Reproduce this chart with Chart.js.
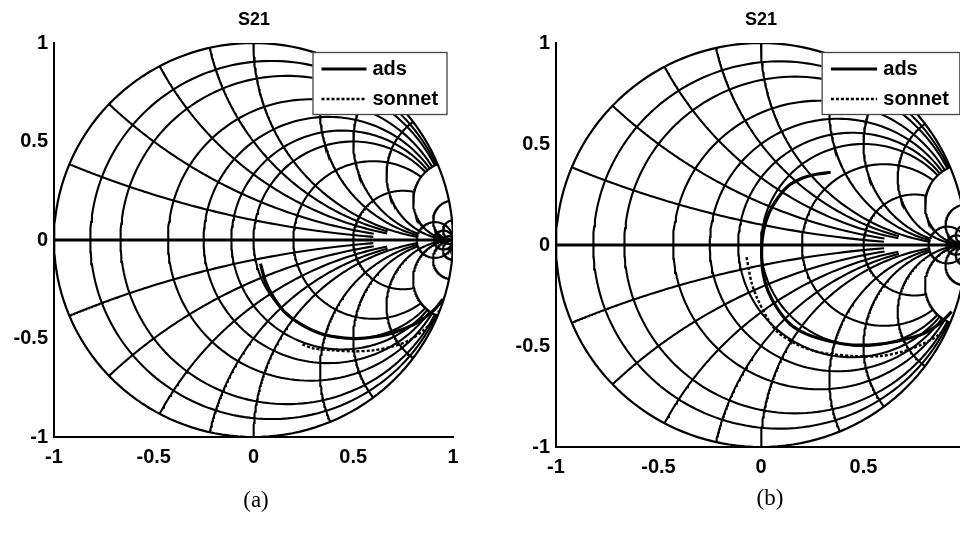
<!DOCTYPE html>
<html>
<head>
<meta charset="utf-8">
<script src="https://cdn.jsdelivr.net/npm/chart.js@4.4.1/dist/chart.umd.min.js"></script>
<style>
  html, body { margin: 0; padding: 0; background: #fff; }
  #page { position: relative; width: 960px; height: 533px; overflow: hidden; background: #fff; }
  .panel { position: absolute; top: 0; }
  .cap { position: absolute; font-family: "Liberation Serif", "Times New Roman", serif; font-size: 23px;
         color: #000; transform: translateX(-50%); line-height: 26px; }
  .ttl { position: absolute; font-family: "Liberation Sans", Arial, sans-serif; font-weight: bold; font-size: 18px;
         color: #000; transform: translateX(-50%); line-height: 20px; top: 9px; }
</style>
</head>
<body>
<div id="page">
  <div class="panel" style="left:0"><canvas id="chartA" width="480" height="533"></canvas></div>
  <div class="panel" style="left:480px"><canvas id="chartB" width="513" height="533"></canvas></div>
  <div class="ttl" style="left:254px">S21</div>
  <div class="ttl" style="left:761px">S21</div>
  <div class="cap" style="left:256px;top:487px">(a)</div>
  <div class="cap" style="left:770px;top:485px">(b)</div>
</div>
<script>
// ---- measured S21 traces (real / imaginary parts) ----
const adsA_re    = [0.035, 0.06, 0.10, 0.16, 0.24, 0.35, 0.50, 0.62, 0.73, 0.82, 0.90, 0.95];
const adsA_im    = [-0.12, -0.21, -0.29, -0.37, -0.43, -0.48, -0.50, -0.49, -0.46, -0.42, -0.36, -0.30];
const sonnetA_re = [0.245, 0.30, 0.40, 0.50, 0.60, 0.70, 0.78, 0.85, 0.90, 0.93];
const sonnetA_im = [-0.53, -0.55, -0.56, -0.565, -0.56, -0.54, -0.51, -0.46, -0.41, -0.36];

const adsB_re    = [0.34, 0.27, 0.20, 0.13, 0.08, 0.04, 0.012, 0.003, 0.01, 0.035, 0.077, 0.14, 0.22, 0.33, 0.45, 0.58, 0.69, 0.79, 0.87, 0.93];
const adsB_im    = [0.36, 0.35, 0.33, 0.29, 0.23, 0.16, 0.07, -0.03, -0.14, -0.23, -0.31, -0.39, -0.44, -0.475, -0.495, -0.49, -0.47, -0.44, -0.39, -0.33];
const sonnetB_re = [-0.07, -0.06, -0.045, -0.02, 0.03, 0.08, 0.17, 0.26, 0.34, 0.46, 0.58, 0.70, 0.79, 0.86, 0.91];
const sonnetB_im = [-0.06, -0.12, -0.19, -0.26, -0.36, -0.43, -0.49, -0.525, -0.54, -0.55, -0.55, -0.525, -0.49, -0.45, -0.40];

// ---- Smith chart grid: value of each circle / arc and how far it runs ----
const rValues = [0.1, 0.2, 0.4, 0.6, 0.8, 1, 1.5, 3, 10, 20, 50];
const rReach  = [5, 5, 5, 5, 5, 5, 5, 5, Infinity, Infinity, Infinity];   // |x| bound of each resistance circle
const xValues = [0.2, 0.4, 0.6, 0.8, 1, 1.5, 2, 3, 5, 10, 20];
const xReach  = [4, 4, 5, 5, 10, 10, 10, Infinity, Infinity, Infinity, Infinity]; // r bound of each reactance arc

const tickValues = [-1, -0.5, 0, 0.5, 1];
const seriesNames = ['ads', 'sonnet'];

function gammaOf(r, x) {
  if (!isFinite(r) || !isFinite(x) || Math.abs(x) > 1e7 || r > 1e7) return { x: 1, y: 0 };
  const d = (r + 1) * (r + 1) + x * x;
  return { x: (r * r + x * x - 1) / d, y: 2 * x / d };
}

function resistanceCircle(r, reach) {
  const T = isFinite(reach) ? Math.atan(reach / (1 + r)) : Math.PI / 2;
  const pts = [], N = 160;
  for (let i = 0; i <= N; i++) {
    const t = -T + 2 * T * i / N;
    const x = Math.abs(Math.abs(t) - Math.PI / 2) < 1e-9 ? Infinity : (1 + r) * Math.tan(t);
    pts.push(gammaOf(r, x));
  }
  return pts;
}

function reactanceArc(x, reach) {
  const ax = Math.abs(x);
  const T = isFinite(reach) ? Math.atan(reach / ax) : Math.PI / 2;
  const pts = [], N = 140;
  for (let i = 0; i <= N; i++) {
    const t = T * i / N;
    const r = Math.abs(t - Math.PI / 2) < 1e-9 ? Infinity : ax * Math.tan(t);
    pts.push(gammaOf(r, x));
  }
  return pts;
}

function gridDatasets() {
  const line = (pts, w) => ({ data: pts, showLine: true, pointRadius: 0, borderColor: '#000',
                              borderWidth: w, fill: false, order: 2, tension: 0 });
  const sets = [];
  sets.push(line(resistanceCircle(0, Infinity), 2.2));
  rValues.forEach((r, i) => sets.push(line(resistanceCircle(r, rReach[i]), 2.1)));
  xValues.forEach((x, i) => {
    sets.push(line(reactanceArc(x, xReach[i]), 2.1));
    sets.push(line(reactanceArc(-x, xReach[i]), 2.1));
  });
  sets.push(line([{ x: -1, y: 0 }, { x: 1, y: 0 }], 3.2));
  return sets;
}

function zipPts(re, im) { return re.map((v, i) => ({ x: v, y: im[i] })); }

const legendBox = {
  id: 'legendBox',
  afterDatasetsDraw(chart) {
    const ctx = chart.ctx, ca = chart.chartArea;
    const k = (ca.right - ca.left) / 399;
    const w = 134 * k, h = 62, right = ca.right - 6.5 * k, top = ca.top + 9;
    const left = right - w;
    ctx.save();
    ctx.fillStyle = '#fff';
    ctx.fillRect(left, top, w, h);
    ctx.strokeStyle = '#444';
    ctx.lineWidth = 1.3;
    ctx.strokeRect(left + 0.5, top + 0.5, w, h);
    const rows = [top + 17, top + 47];
    chart.data.datasets.filter(d => d.label).forEach((d, i) => {
      ctx.beginPath();
      ctx.setLineDash(d.borderDash || []);
      ctx.lineWidth = d.borderWidth;
      ctx.strokeStyle = d.borderColor;
      ctx.moveTo(left + 9 * k, rows[i]);
      ctx.lineTo(left + 54 * k, rows[i]);
      ctx.stroke();
      ctx.setLineDash([]);
      ctx.fillStyle = '#000';
      ctx.font = 'bold 20px "Liberation Sans", Arial, sans-serif';
      ctx.textBaseline = 'middle';
      ctx.textAlign = 'left';
      ctx.fillText(d.label, left + 60 * k, rows[i]);
    });
    ctx.restore();
  }
};

function makeChart(id, ads, sonnet, geo) {
  const tickFont = { family: '"Liberation Sans", Arial, sans-serif', size: 20, weight: 'bold' };
  const fmt = v => String(v);
  return new Chart(document.getElementById(id), {
    type: 'scatter',
    data: {
      datasets: [
        { label: seriesNames[0], data: ads, showLine: true, pointRadius: 0, borderColor: '#000',
          borderWidth: 3.2, fill: false, order: 0, tension: 0.3 },
        { label: seriesNames[1], data: sonnet, showLine: true, pointRadius: 0, borderColor: '#000',
          borderWidth: 2.4, borderDash: [3, 2], fill: false, order: 1, tension: 0.3 },
        ...gridDatasets()
      ]
    },
    options: {
      responsive: false,
      animation: false,
      events: [],
      devicePixelRatio: 1,
      layout: { padding: { left: geo.padLeft, right: geo.padRight, top: geo.padTop, bottom: 0 } },
      plugins: {
        legend: { display: false },
        tooltip: { enabled: false },
        title: { display: false }
      },
      scales: {
        x: {
          type: 'linear', min: -1, max: 1,
          afterBuildTicks: s => { s.ticks = tickValues.map(v => ({ value: v })); },
          afterFit: s => { s.height = geo.xAxisHeight; },
          grid: { display: false, drawTicks: false },
          border: { display: true, color: '#000', width: 2 },
          ticks: { color: '#000', font: tickFont, padding: 8, maxRotation: 0, callback: fmt }
        },
        y: {
          type: 'linear', min: -1, max: 1,
          afterBuildTicks: s => { s.ticks = tickValues.map(v => ({ value: v })); },
          afterFit: s => { s.width = geo.yAxisWidth; },
          grid: { display: false, drawTicks: false },
          border: { display: true, color: '#000', width: 2 },
          ticks: { color: '#000', font: tickFont, padding: 6, callback: fmt }
        }
      }
    },
    plugins: [legendBox]
  });
}

makeChart('chartA', zipPts(adsA_re, adsA_im), zipPts(sonnetA_re, sonnetA_im),
          { padLeft: 0, padRight: 27, padTop: 43, xAxisHeight: 96, yAxisWidth: 54 });
makeChart('chartB', zipPts(adsB_re, adsB_im), zipPts(sonnetB_re, sonnetB_im),
          { padLeft: 22, padRight: 27, padTop: 43, xAxisHeight: 86, yAxisWidth: 54 });
</script>
</body>
</html>
